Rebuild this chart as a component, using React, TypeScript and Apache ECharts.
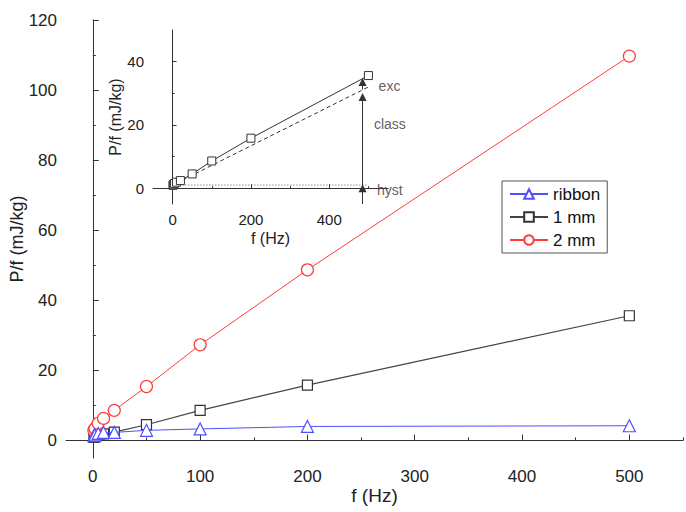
import React, { useEffect, useRef } from "react";
import * as echarts from "echarts";

// ---- data ----
const freqs = [1, 2, 5, 10, 20, 50, 100, 200, 500];
const ribbon = [1.4, 1.6, 2.0, 2.3, 2.3, 2.9, 3.3, 4.0, 4.2];
const mm1 = [0.9, 1.1, 1.5, 1.9, 2.4, 4.5, 8.6, 15.8, 35.6];
const mm2 = [2.9, 3.4, 4.9, 6.3, 8.6, 15.4, 27.3, 48.7, 109.7];

const mainXLabels = [0, 100, 200, 300, 400, 500];
const mainXMinor = [50, 150, 250, 350, 450, 550];
const mainYLabels = [0, 20, 40, 60, 80, 100, 120];
const mainYMinor = [10, 30, 50, 70, 90, 110];
const insetXLabels = [0, 200, 400];
const insetXMinor = [100, 300, 500];
const insetYLabels = [0, 20, 40];
const insetYMinor = [10, 30];

const insetDashed = [[10, 1.6], [500, 32]];
const hystLine = [[2, 1], [500, 1]];
const arrowF = 485;
const arrowSpans = [
  [1, 28.8],
  [31.2, 33.6],
  [-5, 0],
];
const annotationTexts = ["exc", "class", "hyst"];
const annotationPos = [
  [526, 32.3],
  [514, 20.3],
  [522, -0.6],
];

const RED = "#ff3c3c";
const BLUE = "#5050ff";
const BLACK = "#333333";
const FONT = "Liberation Sans, Arial, sans-serif";

const pairs = (ys: number[]) => freqs.map((f, i) => [f, ys[i]]);

export default function App() {
  const ref = useRef<HTMLDivElement>(null);
  useEffect(() => {
    if (!ref.current) return;
    const chart = echarts.init(ref.current, undefined, { renderer: "svg" });

    const axisLine = { show: true, lineStyle: { color: BLACK, width: 1 } };
    const labelStyle = (size: number) => ({
      color: "#222",
      fontSize: size,
      fontFamily: FONT,
    });

    const mkMinorX = (grid: number, min: number, max: number, vals: number[], len: number) => ({
      type: "value",
      gridIndex: grid,
      position: "bottom",
      min,
      max,
      axisLine: { show: false },
      axisLabel: { show: false },
      axisTick: { show: true, inside: true, length: len, customValues: vals, lineStyle: { color: BLACK } },
      splitLine: { show: false },
    });
    const mkMinorY = (grid: number, min: number, max: number, vals: number[], len: number) => ({
      type: "value",
      gridIndex: grid,
      position: "left",
      min,
      max,
      axisLine: { show: false },
      axisLabel: { show: false },
      axisTick: { show: true, inside: true, length: len, customValues: vals, lineStyle: { color: BLACK } },
      splitLine: { show: false },
    });

    const option: any = {
      animation: false,
      backgroundColor: "#fff",
      textStyle: { fontFamily: FONT },
      grid: [
        { left: 66, top: 20, width: 617, height: 438, containLabel: false, outerBoundsMode: "none" },
        { left: 153, top: 30, width: 235, height: 174, containLabel: false, outerBoundsMode: "none" },
      ],
      legend: {
        data: ["ribbon", "1 mm", "2 mm"],
        orient: "vertical",
        left: 502,
        top: 181,
        padding: [4, 7, 4, 7],
        itemGap: 5,
        itemWidth: 38,
        itemHeight: 12,
        borderColor: "#555",
        borderWidth: 1,
        borderRadius: 0,
        textStyle: { ...labelStyle(17), color: "#111", lineHeight: 18 },
      },
      xAxis: [
        {
          type: "value",
          gridIndex: 0,
          position: "bottom",
          min: -25,
          max: 550,
          axisLine,
          axisTick: { show: true, inside: true, length: 6, customValues: mainXLabels, lineStyle: { color: BLACK } },
          axisLabel: { ...labelStyle(17), margin: 10, customValues: mainXLabels },
          splitLine: { show: false },
          name: "f (Hz)",
          nameLocation: "middle",
          nameGap: 28,
          nameMoveOverlap: false,
          nameTextStyle: labelStyle(19),
        },
        mkMinorX(0, -25, 550, mainXMinor, 3),
        {
          type: "value",
          gridIndex: 1,
          position: "bottom",
          min: -50,
          max: 550,
          axisLine,
          axisTick: { show: true, inside: true, length: 4, customValues: insetXLabels, lineStyle: { color: BLACK } },
          axisLabel: { ...labelStyle(15), margin: 8, customValues: insetXLabels },
          splitLine: { show: false },
          name: "f (Hz)",
          nameLocation: "middle",
          nameGap: 26,
          nameMoveOverlap: false,
          nameTextStyle: labelStyle(16),
        },
        mkMinorX(1, -50, 550, insetXMinor, 2),
      ],
      yAxis: [
        {
          type: "value",
          gridIndex: 0,
          position: "left",
          min: -5,
          max: 120,
          axisLine,
          axisTick: { show: true, inside: true, length: 6, customValues: mainYLabels, lineStyle: { color: BLACK } },
          axisLabel: { ...labelStyle(17), margin: 9, customValues: mainYLabels },
          splitLine: { show: false },
          name: "P/f (mJ/kg)",
          nameLocation: "middle",
          nameGap: 40,
          nameMoveOverlap: false,
          nameTextStyle: labelStyle(18),
        },
        mkMinorY(0, -5, 120, mainYMinor, 3),
        {
          type: "value",
          gridIndex: 1,
          position: "left",
          min: -5,
          max: 50,
          axisLine,
          axisTick: { show: true, inside: true, length: 4, customValues: insetYLabels, lineStyle: { color: BLACK } },
          axisLabel: { ...labelStyle(15), margin: 9, customValues: insetYLabels },
          splitLine: { show: false },
          name: "P/f (mJ/kg)",
          nameLocation: "middle",
          nameGap: 30,
          nameMoveOverlap: false,
          nameTextStyle: labelStyle(16),
        },
        mkMinorY(1, -5, 50, insetYMinor, 2),
      ],
      series: [
        {
          name: "ribbon",
          type: "line",
          xAxisIndex: 0,
          yAxisIndex: 0,
          data: pairs(ribbon),
          color: BLUE,
          symbol: "triangle",
          symbolSize: 12,
          showAllSymbol: true,
          lineStyle: { color: BLUE, width: 1 },
          itemStyle: { color: "#fff", borderColor: BLUE, borderWidth: 1.2 },
          z: 3,
        },
        {
          name: "1 mm",
          type: "line",
          xAxisIndex: 0,
          yAxisIndex: 0,
          data: pairs(mm1),
          color: BLACK,
          symbol: "rect",
          symbolSize: 10,
          showAllSymbol: true,
          lineStyle: { color: "#444", width: 1.2 },
          itemStyle: { color: "#fff", borderColor: BLACK, borderWidth: 1.2 },
          z: 2,
        },
        {
          name: "2 mm",
          type: "line",
          xAxisIndex: 0,
          yAxisIndex: 0,
          data: pairs(mm2),
          color: RED,
          symbol: "circle",
          symbolSize: 12,
          showAllSymbol: true,
          lineStyle: { color: RED, width: 1 },
          itemStyle: { color: "#fff", borderColor: RED, borderWidth: 1.2 },
          z: 2,
        },
        // inset
        {
          name: "inset 1 mm",
          type: "line",
          xAxisIndex: 2,
          yAxisIndex: 2,
          data: pairs(mm1),
          symbol: "rect",
          symbolSize: 8,
          showAllSymbol: true,
          lineStyle: { color: BLACK, width: 1 },
          itemStyle: { color: "#fff", borderColor: BLACK, borderWidth: 1 },
          z: 3,
        },
        {
          name: "inset dashed",
          type: "line",
          xAxisIndex: 2,
          yAxisIndex: 2,
          data: insetDashed,
          symbol: "none",
          lineStyle: { color: BLACK, width: 1, type: [4, 3] },
          z: 2,
          markLine: {
            silent: true,
            symbol: ["none", "triangle"],
            symbolSize: 8,
            label: { show: false },
            lineStyle: { color: BLACK, width: 1, type: "solid" },
            data: arrowSpans.map(([a, b]) => [
              { coord: [arrowF, a] },
              { coord: [arrowF, b] },
            ]),
          },
        },
        {
          name: "inset hyst",
          type: "line",
          xAxisIndex: 2,
          yAxisIndex: 2,
          data: hystLine,
          symbol: "none",
          lineStyle: { color: "#555", width: 1, type: [1, 2] },
          z: 1,
        },
        {
          name: "inset notes",
          type: "scatter",
          xAxisIndex: 2,
          yAxisIndex: 2,
          data: annotationPos.map((p, i) => ({ value: p, name: annotationTexts[i] })),
          symbolSize: 0,
          silent: true,
          label: {
            show: true,
            position: "right",
            distance: 0,
            formatter: (p: any) => p.name,
            color: "#333",
            fontSize: 14,
            fontFamily: FONT,
          },
        },
      ],
    };
    chart.setOption(option);
    return () => chart.dispose();
  }, []);
  return (
    <div
      ref={ref}
      style={{ position: "absolute", left: 0, top: 0, width: 686, height: 512, background: "#fff" }}
    />
  );
}
